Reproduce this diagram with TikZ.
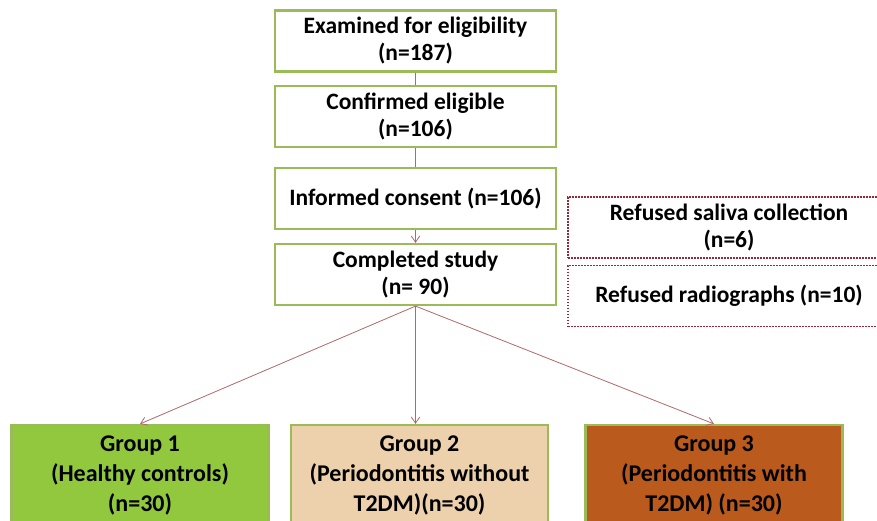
\documentclass[tikz,border=0pt]{standalone}
\usepackage{fontspec}
\setmainfont{Carlito}
\usetikzlibrary{arrows.meta}
\definecolor{boxgreen}{RGB}{155,187,89}
\definecolor{linkred}{RGB}{175,105,105}
\definecolor{dotred}{RGB}{150,40,55}
\definecolor{grpone}{RGB}{146,200,62}
\definecolor{grptwo}{RGB}{237,208,172}
\definecolor{grpthree}{RGB}{186,90,28}

\begin{document}
\begin{tikzpicture}[x=1pt, y=-1pt,
  flowbox/.style={draw=boxgreen, line width=2.2pt, fill=white, minimum width=281pt,
    minimum height=61pt, align=center, inner sep=0pt,
    font=\bfseries\fontsize{23.5}{27}\selectfont},
  refbox/.style={draw=dotred, line width=1.6pt, dash pattern=on 1.6pt off 1.4pt,
    minimum width=322pt, minimum height=61pt, align=center, inner sep=0pt,
    font=\bfseries\fontsize{23.5}{27}\selectfont},
  grpbox/.style={draw=boxgreen, line width=2.2pt, minimum width=257pt,
    minimum height=100pt, align=center, inner sep=0pt,
    font=\bfseries\fontsize{24}{30}\selectfont},
  link/.style={draw=linkred, line width=0.8pt},
  arrow/.style={link, -{Straight Barb[length=2.2mm, width=3mm]}}]
  \useasboundingbox (0,0) rectangle (877,520);
  \clip (0,0) rectangle (877,520);

  % fasi dello studio
  \node[flowbox] (exam) at (415.5,41) {Examined for eligibility\\(n=187)};
  \node[flowbox] (conf) at (415.5,116.5) {Confirmed eligible\\(n=106)};
  \node[flowbox] (cons) at (415.5,198.5) {Informed consent (n=106)};
  \node[flowbox] (done) at (415.5,274.5) {Completed study\\(n= 90)};

  % esclusi
  \node[refbox] (saliva) at (729,227.5) {Refused saliva collection\\(n=6)};
  \node[refbox] (radio) at (729,296) {Refused radiographs (n=10)};

  % gruppi
  \node[grpbox, fill=grpone] (grpA) at (140,475) {Group 1\\(Healthy controls)\\(n=30)};
  \node[grpbox, fill=grptwo] (grpB) at (419.5,475) {Group 2\\(Periodontitis without\\T2DM)(n=30)};
  \node[grpbox, fill=grpthree] (grpC) at (714,475) {Group 3\\(Periodontitis with\\T2DM) (n=30)};

  % collegamenti
  \draw[link] (exam) -- (conf);
  \draw[link] (conf) -- (cons);
  \draw[arrow] (cons) -- (done);
  \draw[arrow] (done.south) -- (grpA.north);
  \draw[arrow] (done.south) -- (grpB.north -| done.south);
  \draw[arrow] (done.south) -- (grpC.north);
\end{tikzpicture}
\end{document}
